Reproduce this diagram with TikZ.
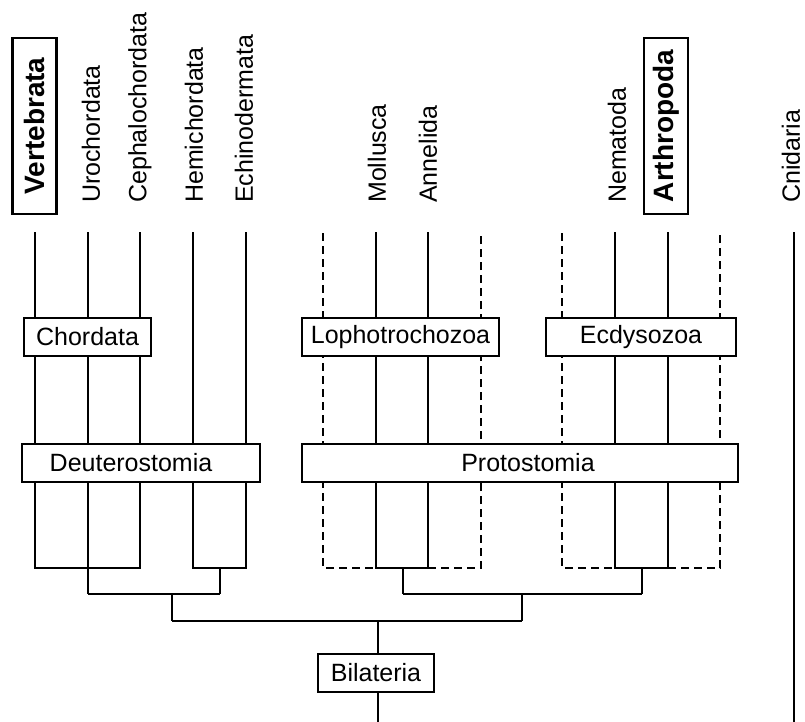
\documentclass[tikz,border=0pt]{standalone}
\usepackage{fontspec}
\setmainfont{Liberation Sans}
\newcommand\labfont{\fontsize{25}{30}\selectfont}
\newcommand\boldlabfont{\fontsize{28}{33}\selectfont\bfseries}
\tikzset{
  branch/.style={line width=2.3pt, line cap=butt, line join=miter},
  dbranch/.style={branch, dash pattern=on 8pt off 5pt},
  taxon/.style={rotate=90, anchor=west, inner sep=0pt, font=\labfont},
  hltaxon/.style={rotate=90, draw, line width=2.3pt, inner sep=0pt, minimum width=176pt, minimum height=44pt, font=\boldlabfont},
  clade/.style={draw, line width=2.3pt, fill=white, inner sep=0pt, minimum height=38pt, font=\labfont}
}
\begin{document}
\begin{tikzpicture}[x=1pt,y=-1pt]
\useasboundingbox (0,0) rectangle (805,722);
% labels
\node[hltaxon] (lV) at (34.5,126) {Vertebrata};
\node[taxon] (lU) at (91,203) {Urochordata};
\node[taxon] (lC) at (140,203) {Cephalochordata};
\node[taxon] (lH) at (194,203) {Hemichordata};
\node[taxon] (lE) at (244,203) {Echinodermata};
\node[taxon] (lM) at (377,203) {Mollusca};
\node[taxon] (lA) at (428,203) {Annelida};
\node[taxon] (lN) at (617,203) {Nematoda};
\node[hltaxon] (lAr) at (666,126) {Arthropoda};
\node[taxon] (lCn) at (791,203) {Cnidaria};
% leaf tops
\coordinate (tV) at (35,232);  \coordinate (bV) at (35,568);
\coordinate (tU) at (88,232);  \coordinate (bU) at (88,568);
\coordinate (tC) at (140,232); \coordinate (bC) at (140,568);
\coordinate (tH) at (193,232); \coordinate (bH) at (193,568);
\coordinate (tE) at (246,232); \coordinate (bE) at (246,568);
\coordinate (tP1) at (323,233); \coordinate (bP1) at (323,568);
\coordinate (tM) at (376,232); \coordinate (bM) at (376,568);
\coordinate (tA) at (428,232); \coordinate (bA) at (428,568);
\coordinate (tP2) at (481,233); \coordinate (bP2) at (481,568);
\coordinate (tN1) at (562,233); \coordinate (bN1) at (562,568);
\coordinate (tN) at (615,232); \coordinate (bN) at (615,568);
\coordinate (tAr) at (668,232); \coordinate (bAr) at (668,568);
\coordinate (tN2) at (720,233); \coordinate (bN2) at (720,568);
\coordinate (tCn) at (794,232); \coordinate (bCn) at (794,722);
% internal joins
\coordinate (jCh) at (88,594);
\coordinate (jHE1) at (220,568); \coordinate (jHE) at (220,594);
\coordinate (jDe1) at (172,594); \coordinate (jDe) at (172,621);
\coordinate (jLo1) at (403,568); \coordinate (jLo) at (403,594);
\coordinate (jEc1) at (642,568); \coordinate (jEc) at (642,594);
\coordinate (jPr1) at (522,594); \coordinate (jPr) at (522,621);
\coordinate (jBi) at (378,621); \coordinate (root) at (378,722);
% deuterostomes
\draw[branch] (tV) -- (bV) -- (bC) -- (tC);
\draw[branch] (tU) -- (bU) -- (jCh);
\draw[branch] (tH) -- (bH) -- (bE) -- (tE);
\draw[branch] (jHE1) -- (jHE);
\draw[branch] (jCh) -- (jHE);
\draw[branch] (jDe1) -- (jDe);
% lophotrochozoa
\draw[dbranch] (tP1) -- (bP1) -- (bM);
\draw[branch] (tM) -- (bM) -- (bA) -- (tA);
\draw[dbranch] (bA) -- (bP2) -- (tP2);
\draw[branch] (jLo1) -- (jLo);
% ecdysozoa
\draw[dbranch] (tN1) -- (bN1) -- (bN);
\draw[branch] (tN) -- (bN) -- (bAr) -- (tAr);
\draw[dbranch] (bAr) -- (bN2) -- (tN2);
\draw[branch] (jEc1) -- (jEc);
\draw[branch] (jLo) -- (jEc);
\draw[branch] (jPr1) -- (jPr);
\draw[branch] (jDe) -- (jPr);
% cnidaria
\draw[branch] (tCn) -- (bCn);
% clade boxes
\node[clade, minimum width=127pt] (Chordata) at (87.5,337) {Chordata};
\node[clade, minimum width=197pt] (Lopho) at (400.5,337) {Lophotrochozoa};
\node[clade, minimum width=190pt] (Ecdy) at (641,337) {Ecdysozoa};
\node[clade, minimum width=238pt] (Deut) at (141,463) {Deuterostomia\hspace*{20pt}};
\node[clade, minimum width=436pt] (Prot) at (520,463) {\hspace*{16pt}Protostomia};
\node[clade, minimum width=116pt] (Bila) at (376,673) {Bilateria};
\draw[branch] (jBi) -- (jBi |- Bila.north);
\draw[branch] (jBi |- Bila.south) -- (root);
\end{tikzpicture}
\end{document}
